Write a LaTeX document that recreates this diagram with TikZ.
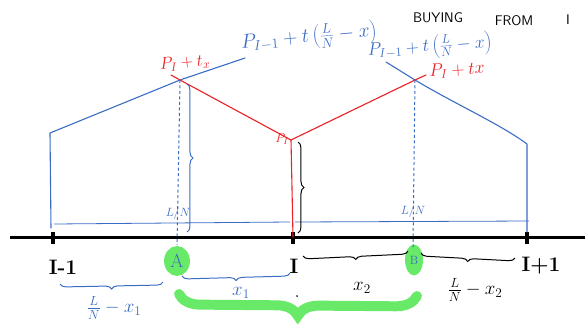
\RequirePackage{fix-cm}
\documentclass[tikz,border=0pt]{standalone}
\usepackage{fontspec}
\usetikzlibrary{positioning, decorations.pathreplacing, calc, shapes.geometric}

\definecolor{inkblue}{RGB}{58,108,196}
\definecolor{inkred}{RGB}{236,32,36}
\definecolor{inkgreen}{RGB}{40,225,40}

\begin{document}
\begin{tikzpicture}[
  x=1bp, y=-1bp,
  axis/.style={line width=3pt, black},
  tick/.style={rectangle, fill=black, minimum width=4pt, minimum height=13pt, inner sep=0pt},
  profile/.style={inkblue, line width=1.1pt, line cap=round, line join=round},
  redpath/.style={inkred, line width=1.1pt, line cap=round, line join=round},
  guide/.style={inkblue, line width=1pt, dash pattern=on 3pt off 2.5pt},
  gap/.style={inkblue, line width=0.8pt},
  blob/.style={ellipse, fill=inkgreen, fill opacity=0.7, text opacity=1, inner sep=0pt},
  bluetxt/.style={text=inkblue, inner sep=0pt},
  redtxt/.style={text=inkred, inner sep=0pt},
  blacktxt/.style={text=black, inner sep=0pt},
  ptlabel/.style={font=\bfseries\fontsize{21}{22}\selectfont, inner sep=0pt},
]

% Brace styles
\tikzset{
  bluebrace/.style={decorate, decoration={brace, amplitude=6pt}, inkblue, line width=1pt},
  blackbrace/.style={decorate, decoration={brace, amplitude=6pt}, black, line width=1pt},
  downbrace/.style={decoration={mirror}},
  greenbrace/.style={decorate, decoration={brace, amplitude=21pt, mirror}, inkgreen, opacity=0.7, line width=10pt, line cap=round},
}

\useasboundingbox (0,0) rectangle (585,325);

% =========================
% Axis with grid points
% =========================
\coordinate (axL) at (10,237);
\coordinate (axR) at (585,237);
\draw[axis] (axL) -- (axR);

\node[tick] (tIm) at (53,238) {};
\node[tick] (tI)  at (293,238) {};
\node[tick] (tIp) at (527,238) {};

\node[ptlabel] (lIm) at (63,267)  {I-1};
\node[ptlabel] (lI)  at (294,266) {I};
\node[ptlabel] (lIp) at (541,266) {I+1};

% Buyers A and B
\node[blob, minimum width=26pt, minimum height=30pt] (A) at (177,261) {\textcolor{inkblue}{\fontsize{19}{19}\selectfont A}};
\node[blob, minimum width=18pt, minimum height=31pt] (B) at (414,260) {\textcolor{inkblue}{\fontsize{12}{12}\selectfont B}};

% =========================
% Price profiles
% =========================
\coordinate (lbBase) at (51,228);
\coordinate (lbTop)  at (50,133);
\coordinate (pA)     at (180,80);
\coordinate (lbEnd)  at (245,58);
\draw[profile] (lbBase) -- (lbTop) -- (pA) -- (lbEnd);

\coordinate (rbStart) at (386,62);
\coordinate (pB)      at (415,80);
\coordinate (rbTop)   at (527,144);
\coordinate (rbBase)  at (527,232);
\draw[profile] (rbStart) -- (pB) .. controls (455,104) and (500,124) .. (rbTop) -- (rbBase);

% red: price charged by I
\coordinate (rA)    at (171,75);
\coordinate (pI)    at (291,140);
\coordinate (rBase) at (293,237);
\coordinate (rEnd)  at (426,75);
\draw[redpath] (rA) -- (pA) -- (pI) -- (pB) -- (rEnd);
\draw[redpath] (pI) -- (rBase);

% dashed drops to the buyers
\coordinate (gA) at (177,245);
\coordinate (gB) at (413,247);
\draw[guide] (pA) -- (gA);
\draw[guide] (pB) -- (gB);

% distance between neighbours
\coordinate (wL0) at (54,224);
\coordinate (wL1) at (290,222);
\coordinate (wR0) at (295,222);
\coordinate (wR1) at (529,221);
\draw[gap] (wL0) -- (wL1);
\draw[gap] (wR0) -- (wR1);
\node[bluetxt, font=\fontsize{12}{12}\selectfont] (dL) at (178,214) {$L/N$};
\node[bluetxt, font=\fontsize{12}{12}\selectfont] (dR) at (413,212) {$L/N$};

% vertical braces
\coordinate (vA0) at (187,84);
\coordinate (vA1) at (187,232);
\coordinate (vI0) at (298,142);
\coordinate (vI1) at (298,233);
\draw[bluebrace] (vA0) -- (vA1);
\draw[blackbrace] (vI0) -- (vI1);

% =========================
% Distances below the axis
% =========================
\coordinate (bL0) at (60,284);
\coordinate (bL1) at (163,282);
\coordinate (bA0) at (182,276);
\coordinate (bA1) at (290,273);
\coordinate (bB0) at (303,256);
\coordinate (bB1) at (408,251);
\coordinate (bR0) at (421,253);
\coordinate (bR1) at (515,258);
\draw[bluebrace, downbrace] (bL0) -- (bL1);
\draw[bluebrace, downbrace] (bA0) -- (bA1);
\draw[blackbrace, downbrace] (bB0) -- (bB1);
\draw[blackbrace, downbrace] (bR0) -- (bR1);

\node[bluetxt, font=\fontsize{19}{20}\selectfont] (xL) at (114,308) {$\frac{L}{N}-x_1$};
\node[bluetxt, font=\fontsize{19}{20}\selectfont] (x1) at (241,293) {$x_1$};
\node[blacktxt, font=\fontsize{19}{20}\selectfont] (x2) at (362,288) {$x_2$};
\node[blacktxt, font=\fontsize{19}{20}\selectfont] (xR) at (475,290) {$\frac{L}{N}-x_2$};

% green: buyers served by I
\coordinate (gb0) at (179,294);
\coordinate (gb1) at (417,296);
\draw[greenbrace] (gb0) -- (gb1);
\node[circle, fill=black, inner sep=0.7pt] (dot) at (297,296) {};

% =========================
% Price labels
% =========================
\node[bluetxt, font=\fontsize{20}{21}\selectfont, rotate=5] (fL) at (309,37) {$P_{I-1}+t\left(\frac{L}{N}-x\right)$};
\node[bluetxt, font=\fontsize{18}{19}\selectfont, rotate=4] (fR) at (430,47) {$P_{I-1}+t\left(\frac{L}{N}-x\right)$};
\node[redtxt, font=\fontsize{17}{18}\selectfont, rotate=5] (qL) at (185,63) {$P_I+t_x$};
\node[redtxt, font=\fontsize{18}{19}\selectfont, rotate=3] (qR) at (457,70) {$P_I+tx$};
\node[redtxt, font=\fontsize{13}{14}\selectfont] (qI) at (282,139) {$P_I$};

\node[blacktxt, font=\sffamily\fontsize{14}{14}\selectfont] (buy)  at (438,18) {BUYING};
\node[blacktxt, font=\sffamily\fontsize{14}{14}\selectfont] (from) at (514,21) {FROM};
\node[blacktxt, font=\sffamily\fontsize{14}{14}\selectfont] (frI)  at (568,20) {I};

\end{tikzpicture}
\end{document}
